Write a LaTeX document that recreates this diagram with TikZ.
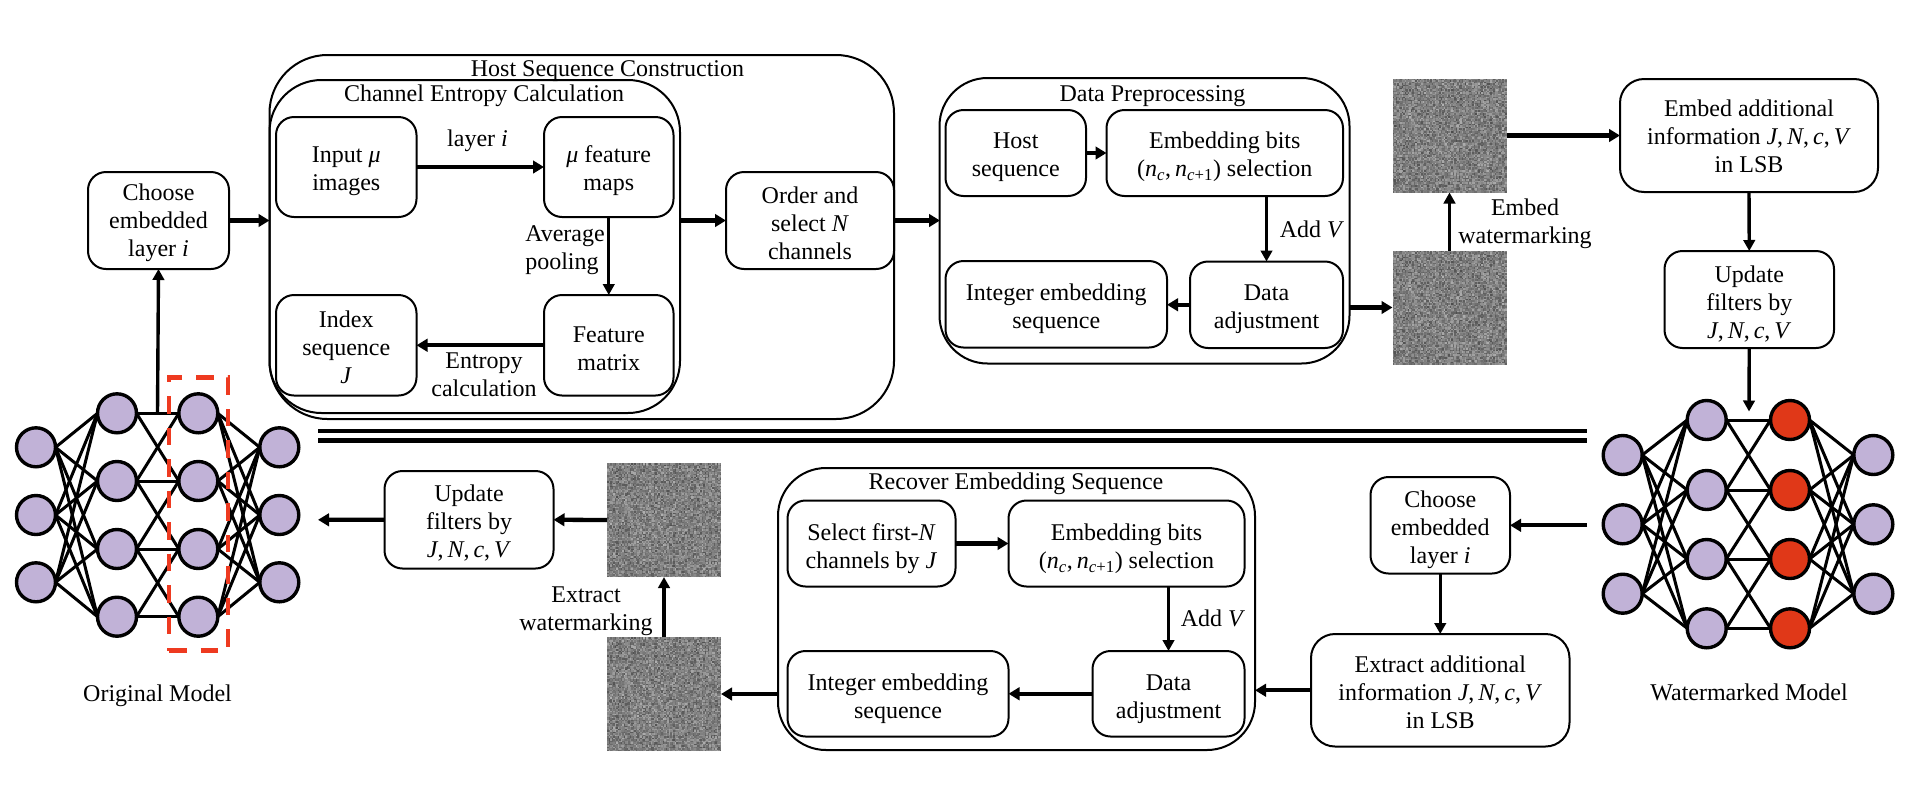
\documentclass[tikz,border=0pt]{standalone}
\usepackage{fontspec}
\setmainfont{Liberation Serif}
\usetikzlibrary{arrows.meta}
\definecolor{lav}{HTML}{C1B2D7}
\definecolor{redn}{HTML}{E03818}
\definecolor{redd}{HTML}{EE3A20}
\newcommand{\mi}[1]{\textit{#1}}
\newcommand{\JNcV}{\mi{J},\,\mi{N},\,\mi{c},\,\mi{V}}
\newcommand{\sel}{(\mi{n}\textsubscript{\mi{c}},\,\mi{n}\textsubscript{\mi{c}+1}) selection}
\newsavebox\noisebox
\newcount\rs \newcount\rt \newcount\rg \newcount\ra \newcount\rr \newcount\rc
\rs=4711
\def\nextr{\global\rs=\numexpr\rs*25173+13849\relax \rt=\rs \divide\rt by 65536 \global\rs=\numexpr\rs-\rt*65536\relax}
\def\noisecell{\nextr\ra=\rs \divide\ra by 656 \nextr\rt=\rs \divide\rt by 656
  \rg=\numexpr30+(\ra+\rt)*20/100\relax
  {\color[gray]{0.\the\rg}\vrule width 1.5pt height 1.5pt depth 0pt}}
\def\dn{0pt}
\tikzset{
  txtdown/.code={\def\dn{#1}},
  span/.style n args={4}{at={({(#1+#3)/2},{(#2+#4)/2})},minimum width={#3-#1},minimum height={#4-#2}},
  base/.style={font=\fontsize{24}{28}\selectfont,align=center,inner sep=0pt,outer sep=0pt,
    execute at begin node={\setbox0\hbox\bgroup},
    execute at end node={\egroup\ht0=\dimexpr\ht0+2\dimexpr\dn\relax\relax\box0}},
  boxa/.style={base,draw,line width=2pt,rounded corners=18pt,txtdown=4pt},
  boxb/.style={base,draw,line width=2pt,rounded corners=24pt},
  outer/.style={base,draw,line width=2pt,rounded corners=#1},
  lbl/.style={base},
  noise/.style={inner sep=0pt,outer sep=0pt},
  tk/.style={line width=4.3pt,-{Triangle[length=11pt,width=12.5pt]}},
  tn/.style={line width=3.4pt,-{Triangle[length=11pt,width=11.5pt]}},
  neuron/.style={circle,draw,line width=3.4pt,minimum size=39pt,inner sep=0pt,outer sep=0pt,fill=lav},
  redneuron/.style={neuron,fill=redn},
  edge/.style={line width=3pt},
  sep/.style={line width=4.6pt},
  redbox/.style={draw=redd,line width=4.5pt,dash pattern=on 17.5pt off 14pt,inner sep=0pt}
}
\begin{document}
\sbox\noisebox{\vbox{\offinterlineskip\rr=0
  \loop\ifnum\rr<76 \advance\rr by 1
    \hbox{\rc=0 \loop\ifnum\rc<76 \advance\rc by 1 \noisecell\repeat}%
  \repeat}}%
\begin{tikzpicture}[x=1pt,y=-1pt]
\useasboundingbox (0,0) rectangle (1916,788);
% upper left
\node[boxa,txtdown=2.5pt,span={88}{172}{229}{269}] (choose) {Choose\\embedded\\layer \mi{i}};
\node[outer=58pt,span={269.5}{55}{894}{419}] (host) {};
\node[outer=52pt,span={269.5}{80}{680}{413}] (chan) {};
\node[lbl] (hostT) at (607.5,71.5) {Host Sequence Construction};
\node[lbl] (chanT) at (484,95.5) {Channel Entropy Calculation};
\node[boxa,span={276}{117}{416.5}{217}] (input) {Input \mi{μ}\\images};
\node[boxa,span={544}{117}{673.5}{217}] (mu) {\mi{μ} feature\\maps};
\node[boxa,txtdown=2.5pt,span={276}{295}{416.5}{395.5}] (index) {Index\\sequence\\\mi{J}};
\node[boxa,span={544}{295}{673.5}{395.5}] (fmat) {Feature\\matrix};
\node[boxa,txtdown=2.5pt,span={726}{172}{894}{269}] (order) {Order and\\select \mi{N}\\channels};
\node[lbl] (lay) at (477.5,141) {layer \mi{i}};
\node[lbl,align=left] (avg) at (565,250) {Average\\pooling};
\node[lbl] (ent) at (484,375) {Entropy\\calculation};
\draw[tk] (choose.east) -- (choose.east -| host.west);
\draw[tk] (input.east) -- (mu.west);
\draw[tn] (mu.south) -- (fmat.north);
\draw[tk] (fmat.west) -- (index.east);
\draw[tk] (order.west -| chan.east) -- (order.west);
\draw[tk] (order.east) -- (order.east -| 940,0);
% data preprocessing
\node[outer=48pt,span={939.5}{78}{1349.5}{363.5}] (data) {};
\node[lbl] (dataT) at (1152.5,96.5) {Data Preprocessing};
\node[boxa,span={945.5}{110}{1086}{196}] (hseq) {Host\\sequence};
\node[boxa,span={1106.5}{110}{1343}{196}] (bits) {Embedding bits\\\sel};
\node[boxa,span={945.5}{261}{1167}{347.5}] (intg) {Integer embedding\\sequence};
\node[boxa,span={1190}{261.5}{1343}{348}] (adj) {Data\\adjustment};
\node[lbl] (addv) at (1312,229) {Add \mi{V}};
\draw[tk] (hseq.east) -- (bits.west);
\draw[tn] (adj.north |- bits.south) -- (adj.north);
\draw[tk] (adj.west) -- (intg.east |- adj.west);
% noise upper
\node[noise] (n1) at (1449.5,135.5) {\usebox\noisebox};
\node[noise] (n2) at (1449.5,307.5) {\usebox\noisebox};
\draw[tk] (n2.west -| data.east) -- (n2.west);
\draw[tn] (n2.north) -- (n1.south);
\node[lbl] (emb) at (1525,223.5) {Embed\\watermarking};
\node[boxb,txtdown=1pt,span={1620}{79}{1878}{192}] (eadd) {Embed additional\\information \JNcV\\in LSB};
\node[boxa,txtdown=4.5pt,span={1664.5}{251}{1834}{348}] (upd) {Update\\filters by\\\JNcV};
\draw[tk] (n1.east) -- (eadd.west);
\draw[tn] (eadd.south) -- (upd.north);
\coordinate (wmtop) at (1749,411.5);
\draw[tn] (upd.south) -- (wmtop);
% separators
\coordinate (s1a) at (318,431); \coordinate (s1b) at (1587,431);
\coordinate (s2a) at (318,440.5); \coordinate (s2b) at (1587,440.5);
\draw[sep] (s1a) -- (s1b);
\draw[sep] (s2a) -- (s2b);
% lower row
\node[boxa,txtdown=3pt,span={384.5}{471}{553.5}{568.5}] (lupd) {Update\\filters by\\\JNcV};
\node[noise] (n3) at (664,520) {\usebox\noisebox};
\node[noise] (n4) at (664,694) {\usebox\noisebox};
\node[lbl] (ext) at (586,611) {Extract\\watermarking};
\coordinate (origin) at (318,519.8);
\draw[tk] (lupd.west) -- (origin);
\draw[tk] (n3.west) -- (lupd.east);
\draw[tn] (n4.north) -- (n3.south);
\node[outer=48pt,span={778}{468}{1255}{750}] (rec) {};
\node[lbl] (recT) at (1016,483.5) {Recover Embedding Sequence};
\node[boxa,txtdown=5pt,span={787.5}{500.5}{955.5}{586.5}] (first) {Select first-\mi{N}\\channels by \mi{J}};
\node[boxa,txtdown=5pt,span={1008.5}{500.5}{1244.5}{586.5}] (lbits) {Embedding bits\\\sel};
\node[boxa,txtdown=5pt,span={787.5}{651}{1008.5}{736.5}] (lint) {Integer embedding\\sequence};
\node[boxa,txtdown=5pt,span={1092.5}{651}{1244.5}{736.5}] (ladj) {Data\\adjustment};
\node[lbl] (laddv) at (1213,618) {Add \mi{V}};
\draw[tk] (first.east) -- (lbits.west);
\draw[tn] (lbits.south -| ladj.north) -- (ladj.north);
\draw[tk] (ladj.west) -- (lint.east);
\draw[tk] (n4.east -| rec.west) -- (n4.east);
\node[boxa,txtdown=5pt,span={1370.5}{477}{1510}{573.5}] (lch) {Choose\\embedded\\layer \mi{i}};
\node[boxb,txtdown=2.5pt,span={1311}{634}{1569.5}{746.5}] (ext2) {Extract additional\\information \JNcV\\in LSB};
\coordinate (wmleft) at (1587,525.3);
\draw[tk] (wmleft) -- (wmleft -| lch.east);
\draw[tn] (lch.south) -- (lch.south |- ext2.north);
\draw[tk] (ext2.west) -- (ext2.west -| rec.east);
% original model
\foreach \n/\y in {1/447.3,2/515,3/582.3}{
  \node[neuron] (a\n) at (36,\y) {};
  \node[neuron] (d\n) at (279.3,\y) {};
}
\foreach \n/\y in {1/413.3,2/481,3/549,4/616.7}{
  \node[neuron] (b\n) at (117,\y) {};
  \node[neuron] (c\n) at (198.3,\y) {};
}
\foreach \i in {1,2,3}\foreach \j in {1,2,3,4}{
  \draw[edge] (a\i.east) -- (b\j.west);
  \draw[edge] (c\j.east) -- (d\i.west);
}
\foreach \i/\j in {1/1,2/2,3/3,4/4,1/2,2/1,2/3,3/2,3/4,4/3}{
  \draw[edge] (b\i.east) -- (c\j.west);
}
\coordinate (onedge) at (157.5,413.3);
\draw[tn] (onedge) -- (choose.south);
\node[redbox,span={169}{377.5}{228}{650.5}] (dash) {};
\node[lbl] (omT) at (157.5,696) {Original Model};
% watermarked model
\foreach \n/\y in {1/455,2/524.3,3/593.7}{
  \node[neuron] (p\n) at (1622.7,\y) {};
  \node[neuron] (s\n) at (1873.3,\y) {};
}
\foreach \n/\y in {1/420,2/490,3/559,4/628.3}{
  \node[neuron] (q\n) at (1706.7,\y) {};
  \node[redneuron] (r\n) at (1790,\y) {};
}
\foreach \i in {1,2,3}\foreach \j in {1,2,3,4}{
  \draw[edge] (p\i.east) -- (q\j.west);
  \draw[edge] (r\j.east) -- (s\i.west);
}
\foreach \i/\j in {1/1,2/2,3/3,4/4,1/2,2/1,2/3,3/2,3/4,4/3}{
  \draw[edge] (q\i.east) -- (r\j.west);
}
\node[lbl] (wmT) at (1749,692) {Watermarked Model};
\end{tikzpicture}
\end{document}
